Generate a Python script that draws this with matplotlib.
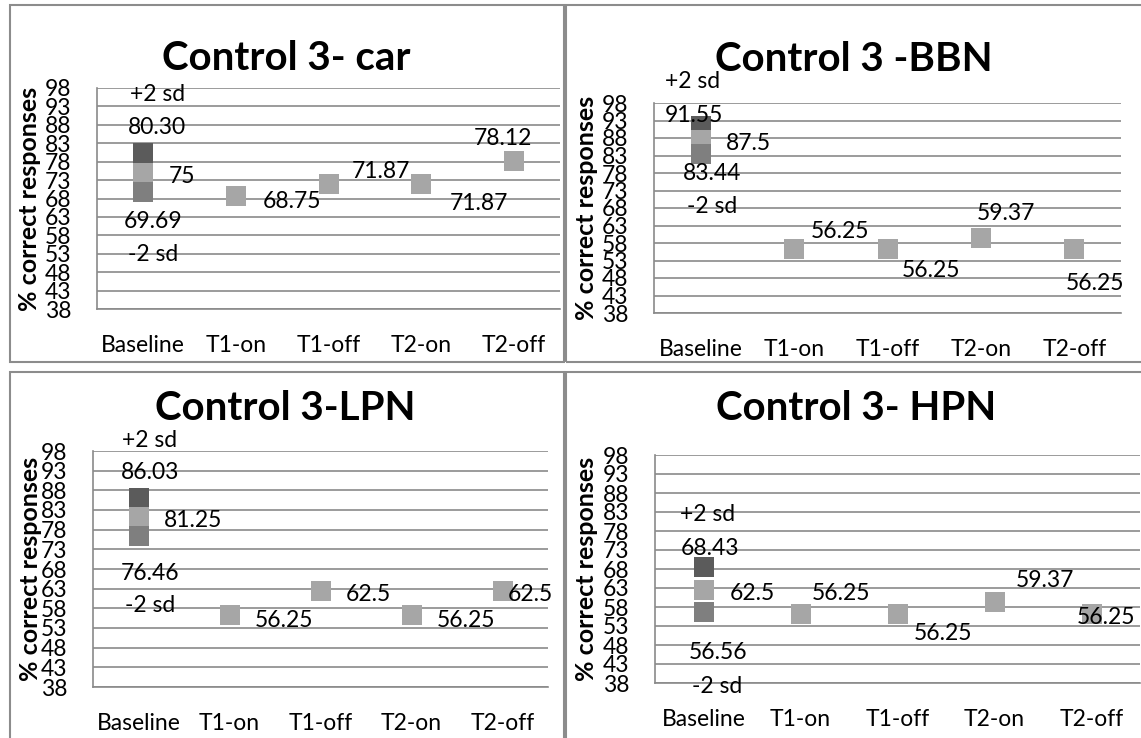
import numpy as np
import matplotlib
matplotlib.use("Agg")
import matplotlib.pyplot as plt
from matplotlib.patches import Rectangle

plt.rcParams['font.family'] = ['Lato', 'DejaVu Sans']

W, H = 1141, 738

# -----------------------------------------------------------------------------
# data
# -----------------------------------------------------------------------------
categories = ["Baseline", "T1-on", "T1-off", "T2-on", "T2-off"]
titles = ["Control 3- car", "Control 3 -BBN", "Control 3-LPN", "Control 3- HPN"]

# baseline: +2 sd, mean, -2 sd
upper_sd = [80.30, 91.55, 86.03, 68.43]
baseline_mean = [75, 87.5, 81.25, 62.5]
lower_sd = [69.69, 83.44, 76.46, 56.56]
upper_text = ["80.30", "91.55", "86.03", "68.43"]
mean_text = ["75", "87.5", "81.25", "62.5"]
lower_text = ["69.69", "83.44", "76.46", "56.56"]

# T1-on, T1-off, T2-on, T2-off
car_scores = [68.75, 71.87, 71.87, 78.12]
bbn_scores = [56.25, 56.25, 59.37, 56.25]
lpn_scores = [56.25, 62.5, 56.25, 62.5]
hpn_scores = [56.25, 56.25, 59.37, 56.25]
scores = [car_scores, bbn_scores, lpn_scores, hpn_scores]

yticks = np.arange(38, 99, 5)

# -----------------------------------------------------------------------------
# layout in pixels (left, top, right, bottom of the plot area)
# -----------------------------------------------------------------------------
boxes = [(97, 88, 560, 309), (654, 103, 1121, 313),
         (93, 451, 548, 687), (655, 455, 1140, 683)]
frames = [(9.5, 5, 564, 362), (566, 5, 1150, 362),
          (9.5, 372, 564, 750), (566, 372, 1150, 750)]
title_xy = [(286, 70), (854, 71), (285, 420), (856, 420)]
ylabel_x = [30, 586, 31, 587]

# label offsets (dx, dy) in pixels from the marker centre, dy up
sd_offsets = [  # +2 sd text, upper value, mean, lower value, -2 sd text
    [(14, 60), (14, 27), (39, -2), (10, -27), (10, -60)],
    [(-8, 46), (-7, 12), (48, -2), (11, -18), (11, -51)],
    [(11, 59), (12, 27), (55, -2), (12, -36), (12, -68)],
    [(4, 55), (6, 21), (49, -2), (15, -38), (14, -72)],
]
score_offsets = [
    [(56, -4), (52, 14), (58, -18), (-11, 24)],
    [(46, 19), (44, -20), (25, 26), (21, -33)],
    [(55, -4), (48, -2), (55, -4), (28, -2)],
    [(41, 22), (46, -18), (50, 23), (15, -2)],
]

dark, mid, light = '#5b5b5b', '#7f7f7f', '#a6a6a6'
grid_col = '#8a8a8a'
fs = 16.5
cap = 0.72 * fs * 100 / 72

fig = plt.figure(figsize=(W / 100, H / 100), dpi=100)

for k in range(4):
    # panel frame
    fl, ft, fr, fb = frames[k]
    fig.add_artist(Rectangle((fl / W, 1 - fb / H), (fr - fl) / W, (fb - ft) / H,
                             transform=fig.transFigure, fill=False,
                             edgecolor='#8c8c8c', lw=1.5, clip_on=False))

    l, t, r, b = boxes[k]
    ax = fig.add_axes([l / W, 1 - b / H, (r - l) / W, (b - t) / H])
    ax.set_xlim(-0.5, 4.5)
    ax.set_ylim(38, 98)
    ax.set_yticks(yticks)
    ax.set_xticks(range(5))
    ax.set_xticklabels(categories)
    ax.tick_params(axis='both', length=0, labelsize=fs, pad=18.5)
    ax.yaxis.grid(True, color=grid_col, lw=1.2)
    ax.set_axisbelow(True)
    for s in ['top', 'right']:
        ax.spines[s].set_visible(False)
    for s in ['left', 'bottom']:
        ax.spines[s].set_color(grid_col)
        ax.spines[s].set_linewidth(1.2)

    # baseline markers
    base_vals = [upper_sd[k], baseline_mean[k], lower_sd[k]]
    for v, c in zip(base_vals, [dark, light, mid]):
        ax.plot(0, v, 's', ms=14.4, mew=0, color=c, zorder=3)
    offs = sd_offsets[k]
    base_texts = [("+2 sd", upper_sd[k]), (upper_text[k], upper_sd[k]),
                  (mean_text[k], baseline_mean[k]), (lower_text[k], lower_sd[k]),
                  ("-2 sd", lower_sd[k])]
    for (txt, v), (dx, dy) in zip(base_texts, offs):
        ax.annotate(txt, (0, v), xytext=(dx, dy - cap / 2),
                    textcoords='offset pixels', ha='center', va='baseline',
                    fontsize=fs, annotation_clip=False, zorder=4)

    # later sessions
    xs = np.arange(1, 5)
    ax.plot(xs, scores[k], 's', ms=14.4, mew=0, color=light, ls='none', zorder=3)
    for x, v, (dx, dy) in zip(xs, scores[k], score_offsets[k]):
        ax.annotate(f"{v:g}", (x, v), xytext=(dx, dy - cap / 2),
                    textcoords='offset pixels', ha='center', va='baseline',
                    fontsize=fs, annotation_clip=False, zorder=4)

    tx, ty = title_xy[k]
    fig.text(tx / W, 1 - ty / H, titles[k], ha='center', va='baseline',
             fontsize=29, fontweight='bold')
    fig.text(ylabel_x[k] / W, 1 - (t + b) / 2 / H, '% correct responses',
             rotation=90, ha='center', va='center', fontsize=18,
             fontweight='bold')

fig.savefig('out.png', dpi=100)
